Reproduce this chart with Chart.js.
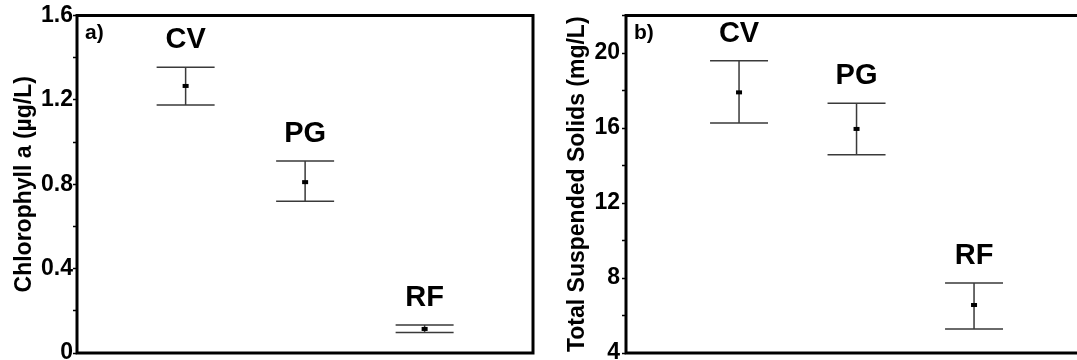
<!DOCTYPE html>
<html>
<head>
<meta charset="utf-8">
<script src="https://cdn.jsdelivr.net/npm/chart.js@4.4.1/dist/chart.umd.min.js"></script>
<style>
    html, body { margin: 0; padding: 0; background: #fff; }
    body { width: 1077px; height: 360px; overflow: hidden; position: relative; }
    .panel { position: absolute; top: 0; height: 360px; }
</style>
</head>
<body>
<div class="panel" style="left:0;width:540px"><canvas id="chl"></canvas></div>
<div class="panel" style="left:540px;width:560px"><canvas id="tss"></canvas></div>
<script>
// sites, in plot order
const sites = ['CV', 'PG', 'RF'];
const sitePos = [1, 2, 3];

// a) Chlorophyll a (ug/L): mean and error bar ends
const chlMean = [1.266, 0.810, 0.114];
const chlUpper = [1.355, 0.910, 0.133];
const chlLower = [1.176, 0.720, 0.097];
const chlTickLabels = [0, 0.4, 0.8, 1.2, 1.6];

// b) Total suspended solids (mg/L)
const tssMean = [17.90, 15.95, 6.56];
const tssUpper = [19.59, 17.32, 7.73];
const tssLower = [16.27, 14.58, 5.28];
const tssTickLabels = [4, 8, 12, 16, 20];

Chart.defaults.font.family = "'Liberation Sans', Arial, sans-serif";
Chart.defaults.font.weight = 'bold';
Chart.defaults.color = '#000';

// frame round the plot area, error bars, site names and panel letter
const decorations = {
    id: 'decorations',
    afterDatasetsDraw(chart, args, opts) {
        const {ctx, chartArea: a, scales: {x, y}} = chart;
        ctx.save();
        ctx.strokeStyle = '#000';
        ctx.lineWidth = 3;
        ctx.strokeRect(a.left, a.top, a.right - a.left, a.bottom - a.top);

        opts.mean.forEach((m, i) => {
            const px = x.getPixelForValue(sitePos[i]);
            const top = y.getPixelForValue(opts.upper[i]);
            const bot = y.getPixelForValue(opts.lower[i]);
            ctx.strokeStyle = '#3a3a3a';
            ctx.lineWidth = 1.5;
            ctx.beginPath();
            ctx.moveTo(px, top);
            ctx.lineTo(px, bot);
            ctx.moveTo(px - 29, top);
            ctx.lineTo(px + 29, top);
            ctx.moveTo(px - 29, bot);
            ctx.lineTo(px + 29, bot);
            ctx.stroke();
            const my = y.getPixelForValue(m);
            ctx.fillStyle = '#000';
            ctx.fillRect(px - 3, my - 2, 6, 4);

            ctx.font = "bold 29px 'Liberation Sans', Arial, sans-serif";
            ctx.textAlign = 'center';
            ctx.textBaseline = 'alphabetic';
            ctx.fillText(sites[i], px, top - 19);
        });

        ctx.font = "bold 21px 'Liberation Sans', Arial, sans-serif";
        ctx.textAlign = 'left';
        ctx.fillText(opts.tag, a.left + 8, a.top + 23.5);
        ctx.restore();
    }
};

function makePanel(id, cfg) {
    const near = (v, list) => list.some(t => Math.abs(t - v) < 1e-6);
    new Chart(document.getElementById(id), {
        type: 'scatter',
        data: {
            datasets: [{
                data: cfg.mean.map((m, i) => ({x: sitePos[i], y: m})),
                pointRadius: 0,
                showLine: false
            }]
        },
        options: {
            responsive: true,
            maintainAspectRatio: false,
            animation: false,
            layout: {padding: {left: 0, top: 15.5, right: cfg.padRight, bottom: 7}},
            plugins: {
                legend: {display: false},
                tooltip: {enabled: false},
                decorations: {mean: cfg.mean, upper: cfg.upper, lower: cfg.lower, tag: cfg.tag}
            },
            scales: {
                x: {
                    type: 'linear',
                    display: false,
                    min: cfg.xMin,
                    max: cfg.xMax
                },
                y: {
                    min: cfg.yMin,
                    max: cfg.yMax,
                    border: {display: false},
                    grid: {
                        drawOnChartArea: false,
                        tickLength: 4,
                        tickWidth: 1.5,
                        tickColor: '#000'
                    },
                    ticks: {
                        stepSize: cfg.step,
                        autoSkip: false,
                        padding: cfg.tickPad,
                        font: {size: 23, weight: 'bold'},
                        callback: v => near(v, cfg.labels) ? cfg.fmt(v) : ''
                    },
                    title: {
                        display: true,
                        text: cfg.title,
                        font: {size: 23, weight: 'bold'},
                        padding: {top: cfg.titlePad, bottom: 0}
                    },
                    afterFit(scale) {
                        scale.width = cfg.axisWidth;
                        scale.paddingTop = 0;
                        scale.paddingBottom = 0;
                    }
                }
            }
        },
        plugins: [decorations]
    });
}

makePanel('chl', {
    mean: chlMean, upper: chlUpper, lower: chlLower, labels: chlTickLabels,
    fmt: v => v === 0 ? '0' : v.toFixed(1),
    title: 'Chlorophyll a (µg/L)', tag: 'a)',
    yMin: 0, yMax: 1.6, step: 0.2,
    xMin: 0.091, xMax: 3.907,
    axisWidth: 77, titlePad: 11, tickPad: 0, padRight: 7
});

makePanel('tss', {
    mean: tssMean, upper: tssUpper, lower: tssLower, labels: tssTickLabels,
    fmt: v => String(Math.round(v)),
    title: 'Total Suspended Solids (mg/L)', tag: 'b)',
    yMin: 4, yMax: 22, step: 2,
    xMin: 0.038, xMax: 4.072,
    axisWidth: 86, titlePad: 24, tickPad: 2, padRight: 0
});
</script>
</body>
</html>
